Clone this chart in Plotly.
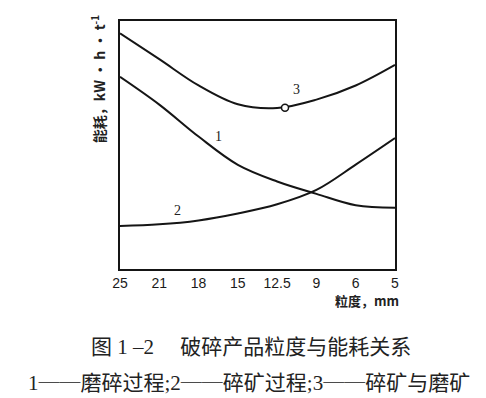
import plotly.graph_objects as go

# Grain size tick labels (mm), left to right
size_labels = ["25", "21", "18", "15", "12.5", "9", "6", "5"]
pos = list(range(len(size_labels)))

# Energy consumption (relative units) at each grain size
grinding = [77.5, 66.3, 53.4, 42.0, 35.3, 30.3, 25.7, 24.7]      # 1 磨碎过程
crushing = [17.3, 18.0, 19.6, 22.4, 26.1, 31.9, 42.1, 52.8]      # 2 碎矿过程
combined = [95.0, 84.6, 74.0, 66.4, 64.9, 68.3, 74.0, 82.3]      # 3 碎矿与磨矿

# Optimum point on curve 3
opt_x = [4.2]
opt_y = [65.0]

curve_labels = ["1", "2", "3"]
label_x = [2.5, 1.46, 4.5]
label_y = [53.3, 23.5, 72.2]

black = "#151515"
fig = go.Figure()
for ys in (grinding, crushing, combined):
    fig.add_trace(go.Scatter(x=pos, y=ys, mode="lines",
                             line=dict(color=black, width=2, shape="spline", smoothing=1.0),
                             hoverinfo="skip", showlegend=False))
fig.add_trace(go.Scatter(x=opt_x, y=opt_y, mode="markers",
                         marker=dict(symbol="circle", size=7, color="white",
                                     line=dict(color=black, width=1.5)),
                         showlegend=False))

for t, x, y in zip(curve_labels, label_x, label_y):
    fig.add_annotation(x=x, y=y, text=t, showarrow=False,
                       font=dict(family="Liberation Serif", size=14, color="#222"))

fig.add_annotation(xref="paper", yref="paper", x=-0.08, y=0.765,
                   xanchor="center", yanchor="middle",
                   text="<b>能耗，kW · h · t<sup>-1</sup></b>", textangle=-90, showarrow=False,
                   font=dict(family="Noto Sans CJK SC", size=14, color="#222"))
fig.add_annotation(xref="paper", yref="paper", x=1.02, y=-0.128,
                   xanchor="right", yanchor="middle",
                   text="<b>粒度，mm</b>", showarrow=False,
                   font=dict(family="Noto Sans CJK SC", size=13, color="#222"))

cap_font = "Liberation Serif, Noto Sans CJK SC"
dash = "<span style='font-family:Noto Sans CJK SC'>\u2500\u2500</span>"
fig.add_annotation(xref="paper", yref="paper", x=0.476, y=-0.315,
                   xanchor="center", yanchor="middle",
                   text="图 1 –2\u3000 破碎产品粒度与能耗关系", showarrow=False,
                   font=dict(family=cap_font, size=21, color="#222"))
fig.add_annotation(xref="paper", yref="paper", x=0.47, y=-0.452,
                   xanchor="center", yanchor="middle",
                   text=f"1{dash}磨碎过程;2{dash}碎矿过程;3{dash}碎矿与磨矿", showarrow=False,
                   font=dict(family=cap_font, size=21, color="#222"))

fig.update_layout(
    width=486, height=398,
    margin=dict(l=120, r=91, t=21, b=129),
    paper_bgcolor="white", plot_bgcolor="white",
    xaxis=dict(range=[0, 7], tickvals=pos, ticktext=size_labels, ticks="",
               showgrid=False, zeroline=False, showline=True, linecolor=black,
               linewidth=2, mirror=True,
               tickfont=dict(family="Liberation Sans", size=14, color="#1a1a1a")),
    xaxis2=dict(range=[0, 7], overlaying="x", side="bottom", tickvals=[4, 5, 6],
                ticks="inside", ticklen=5, tickwidth=1.5, tickcolor=black,
                showticklabels=False, showgrid=False, zeroline=False, showline=False),
    yaxis=dict(range=[0, 100], showticklabels=False, ticks="", showgrid=False,
               zeroline=False, showline=True, linecolor=black, linewidth=2, mirror=True),
)
fig.write_html("out.html", config={"displayModeBar": False},
               post_script="document.body.style.margin='0';")
